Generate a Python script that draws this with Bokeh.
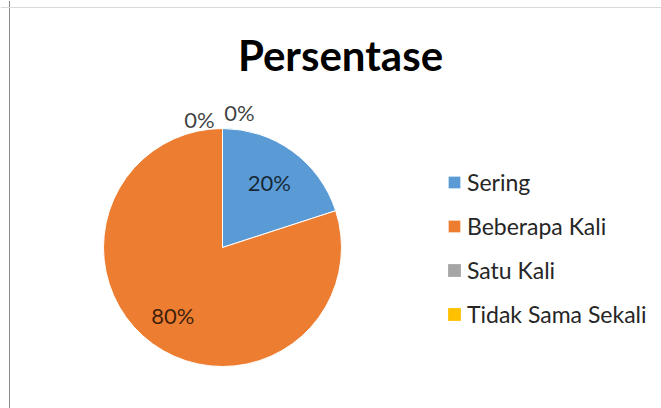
import math
from bokeh.plotting import figure
from bokeh.models import Range1d, Label, Legend, LegendItem, Span, ColumnDataSource
from bokeh.core.properties import value
from bokeh.embed import file_html
from bokeh.resources import INLINE

categories = ["Sering", "Beberapa Kali", "Satu Kali", "Tidak Sama Sekali"]
percentages = [20, 80, 0, 0]
colors = ["#5B9BD5", "#ED7D31", "#A5A5A5", "#FFC000"]
title_text = "Persentase"

W, H = 661, 408
FONT = "Lato"

p = figure(width=W, height=H, output_backend="svg", toolbar_location=None,
           x_range=Range1d(0, W), y_range=Range1d(0, H), min_border=0)
p.axis.visible = False
p.grid.visible = False
p.outline_line_color = None
p.background_fill_color = "white"

cx, cy, R = 222, 161, 119
total = sum(percentages)
starts, ends, mids = [], [], []
cum = 0.0
for v in percentages:
    a0 = math.pi / 2 - 2 * math.pi * cum / total
    cum += v
    a1 = math.pi / 2 - 2 * math.pi * cum / total
    starts.append(a0); ends.append(a1); mids.append((a0 + a1) / 2)

renderers = []
for i, cat in enumerate(categories):
    rad = R if percentages[i] > 0 else 0
    src = ColumnDataSource(dict(x=[cx], y=[cy], s=[starts[i]], e=[ends[i]]))
    r = p.wedge(x="x", y="y", radius=rad, start_angle="s", end_angle="e",
                direction="clock", source=src, fill_color=colors[i],
                line_color="white", line_width=1 if percentages[i] > 0 else 0)
    renderers.append(r)

# data labels
lx, ly, txt = [], [], []
zero_count = 0
for i, v in enumerate(percentages):
    if v > 0:
        rr = R * (0.67 if v < 50 else 0.71)
        lx.append(cx + rr * math.cos(mids[i])); ly.append(cy + rr * math.sin(mids[i]))
    else:
        # outside labels for empty slices, nudged apart
        dx, dy = (-23, 128) if zero_count == 0 else (17, 135)
        lx.append(cx + dx); ly.append(cy + dy)
        zero_count += 1
    txt.append(f"{v}%")
lab_src = ColumnDataSource(dict(x=lx, y=ly, t=txt))
p.text(x="x", y="y", text="t", source=lab_src,
       text_font=value(FONT), text_font_size="22px", text_color="black", text_alpha=0.75,
       text_align="center", text_baseline="middle")

p.add_layout(Label(x=340, y=H - 54, x_units="screen", y_units="screen", text=title_text,
                   text_font=FONT, text_font_size="42px", text_font_style="bold",
                   text_color="black", text_align="center", text_baseline="middle"))

legend = Legend(items=[LegendItem(label=c, renderers=[r]) for c, r in zip(categories, renderers)],
                location=(446, 80), orientation="vertical",
                glyph_width=16, glyph_height=16, label_height=20, spacing=16,
                label_standoff=5, padding=0, margin=0,
                label_text_font=FONT, label_text_font_size="23px", label_text_color="#262626",
                border_line_color=None, background_fill_alpha=0)
p.add_layout(legend)

p.add_layout(Span(location=9, dimension="height", line_color="#8c8c8c", line_width=1))
p.add_layout(Span(location=H - 7, dimension="width", line_color="#d9d9d9", line_width=1))

open("out.html", "w").write(file_html(p, INLINE))
